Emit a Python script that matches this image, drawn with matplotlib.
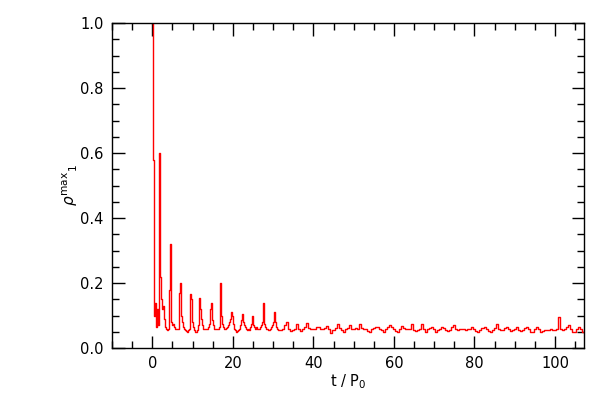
import numpy as np
import matplotlib
matplotlib.use("Agg")
import matplotlib.pyplot as plt
from matplotlib.ticker import MultipleLocator

# Early phase, sampled every 0.25 P0 from t = 0
rho_early = [
    1.00, 0.58, 0.10, 0.14, 0.065, 0.12, 0.07, 0.60,
    0.22, 0.15, 0.12, 0.13, 0.09, 0.065, 0.058, 0.055,
    0.06, 0.18, 0.32, 0.08, 0.07, 0.075, 0.065, 0.06,
    0.058, 0.06, 0.058, 0.17, 0.20, 0.10, 0.08, 0.065,
    0.06, 0.055, 0.052, 0.05, 0.055, 0.06, 0.165, 0.15,
    0.08, 0.065, 0.055, 0.05, 0.05, 0.055, 0.07, 0.155,
    0.12, 0.09, 0.07, 0.06, 0.058, 0.058, 0.06, 0.06,
    0.065, 0.075, 0.12, 0.14, 0.085, 0.07, 0.06, 0.06,
    0.058, 0.06, 0.06, 0.065, 0.20, 0.10, 0.075, 0.065,
    0.06, 0.06, 0.062, 0.065, 0.07, 0.08, 0.09, 0.11,
    0.10, 0.075, 0.06, 0.055, 0.05, 0.052, 0.055, 0.06,
    0.07, 0.085, 0.105, 0.08, 0.07, 0.065, 0.06, 0.055,
    0.06, 0.055, 0.065, 0.075, 0.10, 0.07, 0.065, 0.06,
    0.065, 0.06, 0.06, 0.065, 0.07, 0.08, 0.14, 0.075,
    0.065, 0.06, 0.06, 0.055, 0.055, 0.06, 0.065, 0.07,
    0.08, 0.11, 0.08, 0.065, 0.06, 0.055, 0.055, 0.055,
]
t_early_start, t_early_step = 0.0, 0.25

# Later phase, sampled every 0.5 P0 from t = 32
rho_late = [
    0.055, 0.06, 0.07, 0.08, 0.06, 0.052, 0.055, 0.06,
    0.074, 0.058, 0.052, 0.058, 0.065, 0.076, 0.062, 0.058,
    0.06, 0.058, 0.064, 0.065, 0.058, 0.06, 0.062, 0.068,
    0.058, 0.047, 0.055, 0.062, 0.074, 0.062, 0.055, 0.05,
    0.058, 0.062, 0.07, 0.06, 0.058, 0.062, 0.06, 0.075,
    0.062, 0.06, 0.058, 0.052, 0.048, 0.058, 0.062, 0.066,
    0.064, 0.058, 0.055, 0.05, 0.058, 0.064, 0.07, 0.064,
    0.058, 0.052, 0.05, 0.058, 0.068, 0.062, 0.06, 0.058,
    0.06, 0.074, 0.055, 0.052, 0.054, 0.06, 0.074, 0.058,
    0.05, 0.058, 0.062, 0.066, 0.058, 0.048, 0.054, 0.06,
    0.065, 0.062, 0.055, 0.052, 0.055, 0.064, 0.072, 0.06,
    0.055, 0.058, 0.06, 0.058, 0.055, 0.058, 0.06, 0.064,
    0.06, 0.052, 0.048, 0.056, 0.062, 0.066, 0.058, 0.052,
    0.048, 0.055, 0.062, 0.074, 0.058, 0.055, 0.056, 0.062,
    0.066, 0.058, 0.052, 0.055, 0.06, 0.064, 0.056, 0.052,
    0.056, 0.062, 0.066, 0.058, 0.05, 0.048, 0.058, 0.066,
    0.058, 0.05, 0.052, 0.055, 0.056, 0.055, 0.058, 0.056,
    0.055, 0.058, 0.096, 0.058, 0.056, 0.058, 0.065, 0.071,
    0.058, 0.048, 0.05, 0.058, 0.064, 0.058, 0.05,
]
t_late_start, t_late_step = 32.0, 0.5

x_ticks = [0, 20, 40, 60, 80, 100]
y_ticks = [0.0, 0.2, 0.4, 0.6, 0.8, 1.0]
y_tick_labels = ["0.0", "0.2", "0.4", "0.6", "0.8", "1.0"]

t_early = t_early_start + t_early_step * np.arange(len(rho_early))
t_late = t_late_start + t_late_step * np.arange(len(rho_late))
t = np.concatenate([t_early, t_late])
rho = np.concatenate([rho_early, rho_late])

plt.rcParams['font.family'] = ['DejaVu Sans']
fig = plt.figure(figsize=(6, 4), dpi=100)
ax = fig.add_axes([0.1867, 0.13, 0.7866, 0.8125])
ax.plot(t, rho, color='red', lw=1.0, drawstyle='steps-mid')

ax.set_xlim(-10, 107.2)
ax.set_ylim(0, 1.0)
ax.set_xticks(x_ticks)
ax.set_yticks(y_ticks)
ax.set_yticklabels(y_tick_labels)
ax.xaxis.set_minor_locator(MultipleLocator(5))
ax.yaxis.set_minor_locator(MultipleLocator(0.05))
ax.tick_params(which='both', direction='in', top=True, right=True,
               width=1.0, labelsize=10.5, colors='black')
ax.tick_params(which='major', length=9, pad=6)
ax.tick_params(which='minor', length=5)
for s in ax.spines.values():
    s.set_linewidth(1.0)

ax.set_xlabel(r't / P$_0$', fontsize=10.5, labelpad=1)
ax.set_ylabel(r'$\rho^{\rm max}{}_{1}$', fontsize=11)
ax.yaxis.set_label_coords(-0.068, 0.5)

fig.savefig('out.png', dpi=100)
